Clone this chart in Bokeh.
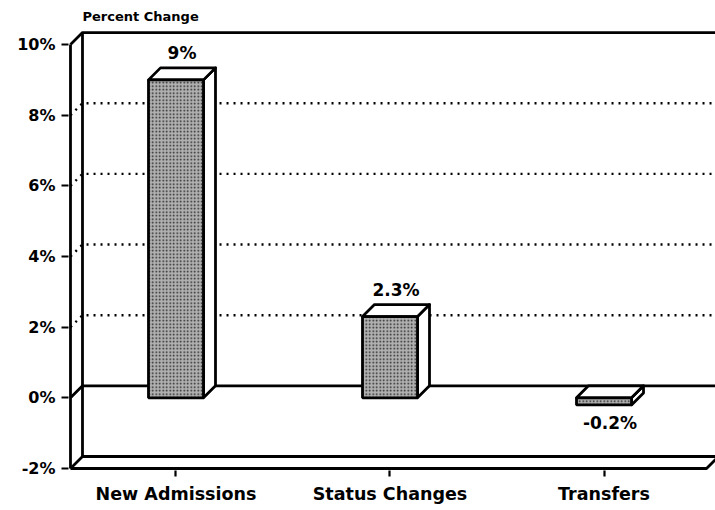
from bokeh.plotting import figure
from bokeh.models import FixedTicker, Range1d, Label, ColumnDataSource
from bokeh.core.properties import value
from bokeh.embed import file_html
from bokeh.resources import INLINE

# ---- data ----
CATEGORIES = ["New Admissions", "Status Changes", "Transfers"]
VALUES = [9.0, 2.3, -0.2]
VALUE_LABELS = ["9%", "2.3%", "-0.2%"]
Y_TICKS = [-2, 0, 2, 4, 6, 8, 10]
Y_TICK_LABELS = ["-2%", "0%", "2%", "4%", "6%", "8%", "10%"]
GRID_VALUES = [2, 4, 6, 8]
Y_MIN, Y_MAX = -2, 10
TITLE = "Percent Change"

# ---- geometry / style ----
PX_X = 214.0    # pixels per category
PX_Y = 35.33    # pixels per percent
BAR_W = 55 / PX_X
DX = 12 / PX_X
DY = 12 / PX_Y
X_AXIS = -0.493
X_FRONT_END = 2.479
X_END = 2.56
FONT = "DejaVu Sans"
LW = 2.8

p = figure(width=715, height=510,
           x_range=Range1d(-0.5023, 2.521),
           y_range=Range1d(Y_MIN - 2 / PX_Y, 11.19),
           output_backend="svg", toolbar_location=None,
           min_border_left=68, min_border_right=0,
           min_border_top=2, min_border_bottom=40)
p.outline_line_color = None
p.xgrid.visible = False
p.ygrid.visible = False

# axes
xs_pos = list(range(len(CATEGORIES)))
p.xaxis.ticker = FixedTicker(ticks=xs_pos)
p.xaxis.major_label_overrides = {i: c for i, c in zip(xs_pos, CATEGORIES)}
p.yaxis.ticker = FixedTicker(ticks=Y_TICKS)
p.yaxis.major_label_overrides = {t: l for t, l in zip(Y_TICKS, Y_TICK_LABELS)}
for ax in (p.xaxis, p.yaxis):
    ax.axis_line_color = None
    ax.minor_tick_line_color = None
    ax.major_tick_in = 0
    ax.major_tick_line_width = 2.2
    ax.major_tick_line_color = "black"
    ax.major_label_text_font = FONT
    ax.major_label_text_font_style = "bold"
    ax.major_label_text_color = "black"
p.yaxis.major_tick_out = 7
p.yaxis.major_label_standoff = 6
p.yaxis.major_label_text_font_size = "16px"
p.xaxis.major_tick_out = 6
p.xaxis.major_label_standoff = 7
p.xaxis.major_label_text_font_size = "17.5px"

# dotted back-wall gridlines
gx, gy = [], []
for g in GRID_VALUES:
    gx.append([X_AXIS, X_AXIS + DX, X_END])
    gy.append([g, g + DY, g + DY])
p.multi_line(gx, gy, line_color="black", line_width=2.4, line_dash="2 5")

# solid frame lines
fx = [
    [X_AXIS, X_AXIS],
    [X_AXIS + DX, X_AXIS + DX],
    [X_AXIS, X_AXIS + DX, X_END],
    [X_AXIS, X_AXIS + DX, X_END],
    [X_AXIS, X_AXIS + DX, X_END],
    [X_AXIS, X_FRONT_END, X_FRONT_END + DX],
]
fy = [
    [Y_MIN, Y_MAX],
    [Y_MIN + DY, Y_MAX + DY],
    [Y_MAX, Y_MAX + DY, Y_MAX + DY],
    [0, DY, DY],
    [Y_MIN, Y_MIN + DY, Y_MIN + DY],
    [Y_MIN, Y_MIN, Y_MIN + DY],
]
p.multi_line(fx, fy, line_color="black", line_width=LW, line_join="round")

# 3D bars
left, right, bottom, top = [], [], [], []
top_xs, top_ys, side_xs, side_ys = [], [], [], []
for i, v in enumerate(VALUES):
    x0, x1 = i - BAR_W / 2, i + BAR_W / 2
    lo, hi = min(0, v), max(0, v)
    left.append(x0); right.append(x1); bottom.append(lo); top.append(hi)
    top_xs.append([x0, x0 + DX, x1 + DX, x1])
    top_ys.append([hi, hi + DY, hi + DY, hi])
    side_xs.append([x1, x1 + DX, x1 + DX, x1])
    side_ys.append([lo, lo + DY, hi + DY, hi])

p.patches(side_xs, side_ys, fill_color="white", line_color="black", line_width=LW, line_join="round")
p.patches(top_xs, top_ys, fill_color="white", line_color="black", line_width=LW, line_join="round")
p.quad(left=left, right=right, bottom=bottom, top=top,
       fill_color="#b0b0b0", hatch_pattern="dot", hatch_color="#222222",
       hatch_scale=3.5, hatch_weight=1.4,
       line_color="black", line_width=LW)

# value labels
lx, ly, lt = [], [], []
for i, (v, t) in enumerate(zip(VALUES, VALUE_LABELS)):
    lx.append(i + DX / 2)
    lt.append(t)
    if v >= 0:
        ly.append(v + DY + 15 / PX_Y)
    else:
        ly.append(v - 18 / PX_Y)
src = ColumnDataSource(dict(x=lx, y=ly, t=lt))
p.text(x="x", y="y", text="t", source=src, text_baseline="middle",
       text_align="center", text_font=value(FONT), text_font_style="bold",
       text_font_size="17px", text_color="black")

p.add_layout(Label(x=X_AXIS + DX, y=10.79, text=TITLE, text_font=FONT,
                   text_font_style="bold", text_font_size="13px",
                   text_baseline="middle", text_color="black"))

open("out.html", "w").write(file_html(p, INLINE))
